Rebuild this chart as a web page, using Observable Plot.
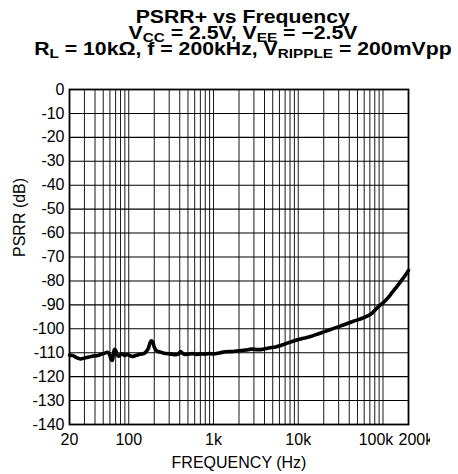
<!DOCTYPE html>
<html>
<head>
<meta charset="utf-8">
<script src="https://cdn.jsdelivr.net/npm/d3@7"></script>
<script src="https://cdn.jsdelivr.net/npm/@observablehq/plot@0.6"></script>
<style>
  html, body { margin: 0; padding: 0; background: #fff; }
  body { width: 458px; height: 474px; overflow: hidden; font-family: "Liberation Sans", Arial, sans-serif; }
  #title { position: relative; width: 458px; height: 60px; }
  #title .ln { position: absolute; left: 14px; width: 458px; text-align: center; font-weight: bold;
               font-size: 18px; line-height: 1; white-space: nowrap; color: #000; }
  #title .ln span.s { display: inline-block; transform: scaleX(1.18); transform-origin: center; }
  #title sub { font-size: 0.72em; line-height: 0; vertical-align: -0.26em; }
  #chart { width: 430px; overflow: hidden; }
  #chart svg { max-width: none !important; }
</style>
</head>
<body>
<div id="title">
  <div class="ln" style="top:7.5px"><span class="s">PSRR+ vs Frequency</span></div>
  <div class="ln" style="top:23.5px"><span class="s">V<sub>CC</sub> = 2.5V, V<sub>EE</sub> = −2.5V</span></div>
  <div class="ln" style="top:39.5px"><span class="s">R<sub>L</sub> = 10kΩ, f = 200kHz, V<sub>RIPPLE</sub> = 200mVpp</span></div>
</div>
<div id="chart"></div>
<script>
// ---- data ----
const freq = [20, 22, 24, 27, 30, 34, 38, 43, 48, 52, 56, 59, 62, 64, 66, 68, 70, 73, 76, 80, 85, 90, 95, 100,
  110, 120, 130, 140, 150, 160, 170, 178, 185, 192, 200, 210, 225, 240, 260, 290, 320, 360, 390, 410, 430, 460,
  500, 560, 630, 700, 800, 900, 1000, 1200, 1400, 1700, 2000, 2400, 2800, 3300, 3800, 4500, 5400, 6200, 7400,
  9000, 11500, 14000, 17000, 20000, 24000, 29000, 34000, 40000, 47000, 55000, 64000, 72000, 80000, 90000,
  100000, 115000, 130000, 150000, 170000, 185000, 200000];
const psrr = [-111.0, -111.2, -112.0, -112.6, -112.2, -111.8, -111.4, -111.2, -110.6, -110.2, -109.8, -110.5,
  -112.8, -113.2, -110.5, -108.6, -109.0, -110.8, -111.5, -110.8, -110.6, -111.2, -110.8, -111.0,
  -111.6, -111.2, -110.8, -110.6, -110.4, -109.6, -108.2, -106.0, -105.0, -105.6, -107.6, -109.0, -109.6, -109.8,
  -110.2, -110.4, -110.6, -110.8, -110.4, -109.5, -110.2, -110.7,
  -110.6, -110.4, -110.7, -110.5, -110.6, -110.3, -110.5, -110.0, -109.6, -109.5, -109.2, -108.9, -108.5, -108.7,
  -108.6, -108.0, -107.6, -107.0, -106.0,
  -105.0, -104.0, -103.2, -102.2, -101.3, -100.3, -99.3, -98.4, -97.5, -96.6, -95.8, -94.8, -93.8, -92.3, -90.5,
  -89.2, -87.0, -84.6, -81.8, -79.2, -77.4, -75.6];

const yTicks = [0, -10, -20, -30, -40, -50, -60, -70, -80, -90, -100, -110, -120, -130, -140];
const xTickValues = [20, 100, 1000, 10000, 100000, 200000];
const xTickLabels = ["20", "100", "1k", "10k", "100k", "200k"];
const decades = [10, 100, 1000, 10000, 100000];
const multiples = [1, 2, 3, 4, 5, 6, 7, 8, 9];
const xGrid = decades.flatMap(d => multiples.map(m => m * d)).filter(v => v >= 20 && v <= 200000);
const xLabel = "FREQUENCY (Hz)";
const yLabel = "PSRR (dB)";

const data = freq.map((f, i) => ({f, v: psrr[i]}));
const ticks = xTickValues.map((v, i) => ({v, label: xTickLabels[i], i}));

const fs = 16;
const chart = Plot.plot({
  width: 458,
  height: 414,
  marginTop: 29,
  marginBottom: 50,
  marginLeft: 69,
  marginRight: 50,
  style: {fontFamily: "'Liberation Sans', Arial, sans-serif", fontSize: fs + "px", color: "#000", background: "#fff", maxWidth: "none"},
  x: {type: "log", domain: [20, 200000], axis: null},
  y: {domain: [-140, 0], axis: null},
  marks: [
    Plot.ruleX(xGrid, {x: d => d, stroke: "#000", strokeWidth: 1, strokeOpacity: 0.9}),
    Plot.ruleY(yTicks, {y: d => d, stroke: "#000", strokeWidth: 1.1}),
    Plot.frame({stroke: "#000", strokeWidth: 1.8}),
    Plot.line(data, {x: "f", y: "v", stroke: "#000", strokeWidth: 3.6, strokeLinejoin: "round", strokeLinecap: "round", curve: "catmull-rom"}),
    Plot.text(yTicks, {y: d => d, text: d => String(d), frameAnchor: "left", dx: -5, textAnchor: "end", lineAnchor: "middle", fontSize: fs}),
    Plot.text(ticks.filter(d => d.i < 4), {x: "v", text: "label", frameAnchor: "bottom", dy: 15, lineAnchor: "middle", fontSize: fs}),
    Plot.text(ticks.filter(d => d.i === 4), {x: "v", text: "label", frameAnchor: "bottom", dy: 15, dx: -7, lineAnchor: "middle", fontSize: fs}),
    Plot.text(ticks.filter(d => d.i === 5), {x: "v", text: "label", frameAnchor: "bottom", dy: 15, dx: -10, textAnchor: "start", lineAnchor: "middle", fontSize: fs}),
    Plot.text([xLabel], {frameAnchor: "bottom", dy: 38, lineAnchor: "middle", fontSize: fs}),
    Plot.text([yLabel], {frameAnchor: "left", dx: -50, rotate: -90, lineAnchor: "middle", fontSize: fs})
  ]
});
document.getElementById("chart").appendChild(chart);
</script>
</body>
</html>
